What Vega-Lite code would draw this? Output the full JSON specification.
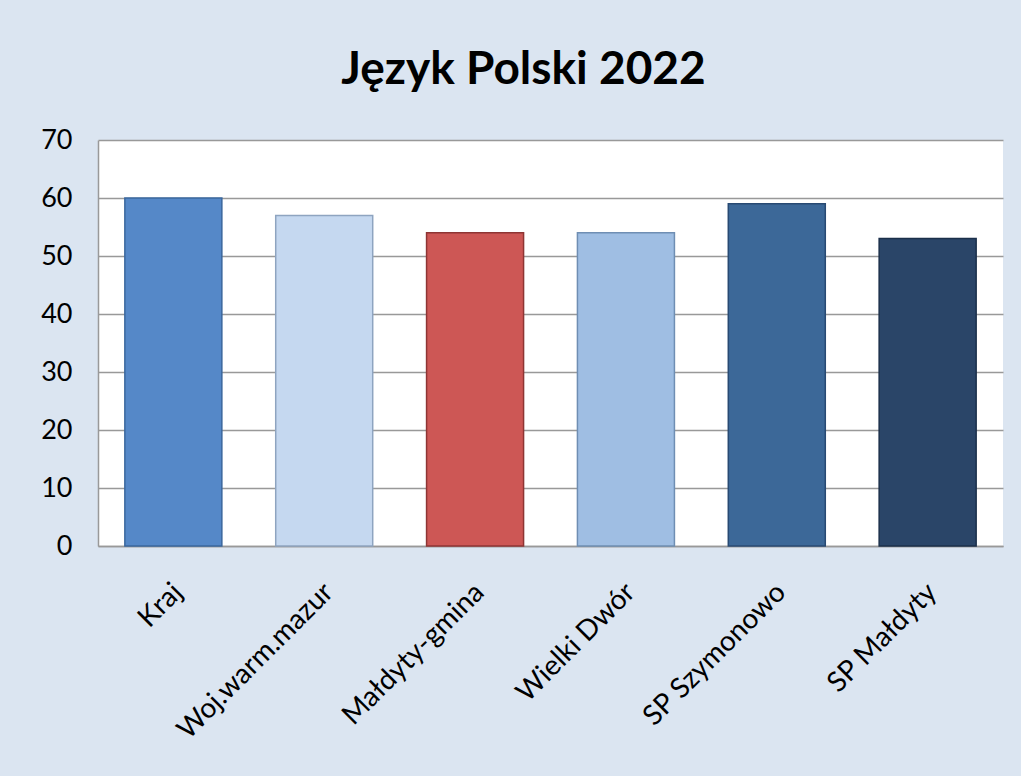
{
  "$schema": "https://vega.github.io/schema/vega-lite/v6.json",
  "width": 905,
  "height": 406,
  "autosize": {"type": "none"},
  "padding": {"left": 98, "top": 140, "right": 18, "bottom": 230},
  "background": "#dbe5f1",
  "title": {
    "text": "Język Polski 2022",
    "font": "Lato",
    "fontSize": 46,
    "fontWeight": "bold",
    "color": "#000000",
    "anchor": "middle",
    "frame": "group",
    "baseline": "alphabetic",
    "offset": 54,
    "dy": 58,
    "dx": -27
  },
  "data": {
    "values": [
      {"kategoria": "Kraj", "wynik": 60},
      {"kategoria": "Woj.warm.mazur", "wynik": 57},
      {"kategoria": "Małdyty-gmina", "wynik": 54},
      {"kategoria": "Wielki Dwór", "wynik": 54},
      {"kategoria": "SP Szymonowo", "wynik": 59},
      {"kategoria": "SP Małdyty", "wynik": 53}
    ]
  },
  "mark": {"type": "bar", "strokeWidth": 1.5},
  "encoding": {
    "x": {
      "field": "kategoria",
      "type": "nominal",
      "sort": null,
      "scale": {"paddingInner": 0.357, "paddingOuter": 0.178},
      "axis": {
        "title": null,
        "labelAngle": -45,
        "labelFont": "Lato",
        "labelFontSize": 28,
        "labelColor": "#000000",
        "labelPadding": 32,
        "labelOffset": -5,
        "labelLimit": 400,
        "ticks": false,
        "domainColor": "#999999",
        "domainWidth": 1.5
      }
    },
    "y": {
      "field": "wynik",
      "type": "quantitative",
      "scale": {"domain": [0, 70], "nice": false},
      "axis": {
        "title": null,
        "values": [0, 10, 20, 30, 40, 50, 60, 70],
        "labelFont": "Lato",
        "labelFontSize": 27,
        "labelColor": "#000000",
        "labelPadding": 26,
        "ticks": false,
        "domain": true,
        "domainColor": "#999999",
        "domainWidth": 1.5,
        "gridColor": "#999999",
        "gridWidth": 1.5
      }
    },
    "color": {
      "field": "kategoria",
      "type": "nominal",
      "sort": null,
      "legend": null,
      "scale": {
        "domain": ["Kraj", "Woj.warm.mazur", "Małdyty-gmina", "Wielki Dwór", "SP Szymonowo", "SP Małdyty"],
        "range": ["#5588c8", "#c5d8f0", "#cd5755", "#9fbee3", "#3c6898", "#2a4568"]
      }
    },
    "stroke": {
      "field": "kategoria",
      "type": "nominal",
      "sort": null,
      "legend": null,
      "scale": {
        "domain": ["Kraj", "Woj.warm.mazur", "Małdyty-gmina", "Wielki Dwór", "SP Szymonowo", "SP Małdyty"],
        "range": ["#3a679d", "#8ea4c0", "#8e3534", "#6f8eb3", "#284a73", "#1b2f4a"]
      }
    }
  },
  "config": {
    "view": {"fill": "#ffffff", "stroke": null}
  }
}
